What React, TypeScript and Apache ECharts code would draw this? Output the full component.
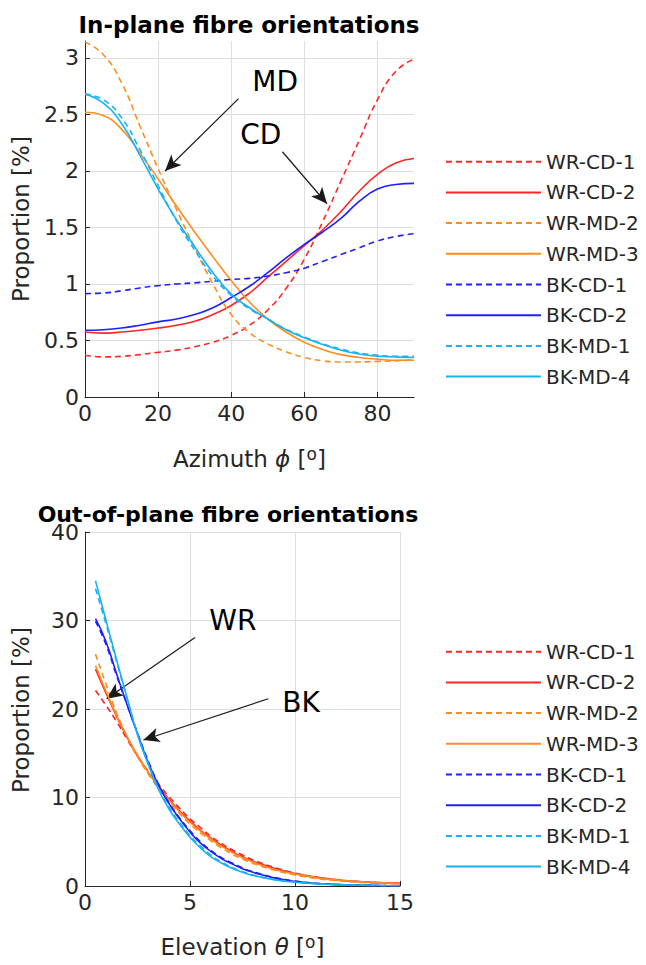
import React, { useEffect, useRef } from 'react';
import * as echarts from 'echarts';

const seriesNames = ['WR-CD-1', 'WR-CD-2', 'WR-MD-2', 'WR-MD-3', 'BK-CD-1', 'BK-CD-2', 'BK-MD-1', 'BK-MD-4'];
const seriesColors = ['#ff2626', '#ff2626', '#ff8c1f', '#ff8c1f', '#1f1fff', '#1f1fff', '#17b2f2', '#17b2f2'];
const seriesDashed = [true, false, true, false, true, false, true, false];

// In-plane (azimuth, degrees)
const azimuth = [0, 5, 10, 15, 20, 25, 30, 35, 40, 45, 50, 55, 60, 65, 70, 75, 80, 85, 90];
const wrCd1In = [0.37, 0.355, 0.36, 0.375, 0.395, 0.415, 0.445, 0.485, 0.545, 0.635, 0.77, 0.96, 1.22, 1.55, 1.91, 2.27, 2.63, 2.88, 2.99];
const wrCd2In = [0.575, 0.565, 0.575, 0.59, 0.61, 0.635, 0.67, 0.73, 0.81, 0.92, 1.06, 1.2, 1.34, 1.48, 1.64, 1.82, 1.97, 2.07, 2.11];
const wrMd2In = [3.14, 3.03, 2.78, 2.4, 2.02, 1.66, 1.32, 1.0, 0.73, 0.57, 0.47, 0.4, 0.35, 0.32, 0.31, 0.31, 0.315, 0.32, 0.33];
const wrMd3In = [2.52, 2.49, 2.37, 2.16, 1.93, 1.69, 1.46, 1.24, 1.03, 0.84, 0.69, 0.575, 0.485, 0.42, 0.375, 0.35, 0.335, 0.325, 0.325];
const bkCd1In = [0.915, 0.92, 0.94, 0.965, 0.985, 1.0, 1.01, 1.025, 1.04, 1.05, 1.07, 1.1, 1.14, 1.2, 1.26, 1.32, 1.38, 1.42, 1.445];
const bkCd2In = [0.59, 0.595, 0.61, 0.635, 0.665, 0.69, 0.73, 0.79, 0.88, 0.98, 1.1, 1.23, 1.35, 1.46, 1.58, 1.73, 1.84, 1.88, 1.89];
const bkMd1In = [2.68, 2.63, 2.47, 2.19, 1.87, 1.56, 1.3, 1.07, 0.9, 0.78, 0.69, 0.6, 0.53, 0.47, 0.425, 0.39, 0.37, 0.36, 0.36];
const bkMd4In = [2.68, 2.6, 2.42, 2.14, 1.84, 1.57, 1.33, 1.1, 0.91, 0.79, 0.69, 0.595, 0.525, 0.465, 0.415, 0.38, 0.36, 0.355, 0.35];

// Out-of-plane (elevation, degrees)
const elevation = [0.5, 1, 1.5, 2, 2.5, 3, 3.5, 4, 4.5, 5, 5.5, 6, 6.5, 7, 7.5, 8, 9, 10, 11, 12, 13, 14, 15];
const wrCd1El = [22.1, 20.4, 18.6, 16.6, 14.7, 13.0, 11.5, 10.1, 8.8, 7.6, 6.6, 5.6, 4.8, 4.1, 3.5, 2.95, 2.1, 1.45, 1.0, 0.7, 0.5, 0.36, 0.28];
const wrCd2El = [24.5, 21.8, 19.2, 16.8, 14.7, 12.9, 11.3, 9.8, 8.5, 7.35, 6.3, 5.4, 4.6, 3.9, 3.3, 2.8, 2.0, 1.4, 1.0, 0.7, 0.5, 0.38, 0.3];
const wrMd2El = [26.2, 22.8, 19.6, 16.9, 14.6, 12.7, 11.0, 9.5, 8.2, 7.0, 6.0, 5.1, 4.3, 3.6, 3.05, 2.55, 1.8, 1.25, 0.85, 0.6, 0.42, 0.3, 0.22];
const wrMd3El = [24.9, 22.0, 19.3, 16.9, 14.8, 12.9, 11.2, 9.7, 8.4, 7.2, 6.2, 5.3, 4.5, 3.8, 3.2, 2.7, 1.9, 1.35, 0.95, 0.68, 0.5, 0.38, 0.3];
const bkCd1El = [29.9, 27.3, 23.8, 20.5, 17.3, 14.2, 11.5, 9.4, 7.7, 6.25, 5.0, 4.0, 3.2, 2.6, 2.05, 1.62, 0.97, 0.56, 0.31, 0.17, 0.1, 0.05, 0.03];
const bkCd2El = [30.2, 27.6, 24.0, 20.5, 17.2, 14.0, 11.4, 9.3, 7.6, 6.1, 4.85, 3.9, 3.1, 2.5, 1.95, 1.55, 0.92, 0.52, 0.29, 0.16, 0.09, 0.05, 0.03];
const bkMd1El = [33.6, 29.6, 25.4, 21.2, 17.2, 13.9, 11.1, 8.9, 7.2, 5.7, 4.5, 3.5, 2.7, 2.1, 1.62, 1.25, 0.75, 0.45, 0.27, 0.16, 0.1, 0.05, 0.03];
const bkMd4El = [34.5, 30.0, 25.6, 21.3, 17.1, 13.8, 10.9, 8.7, 7.0, 5.5, 4.3, 3.3, 2.6, 2.0, 1.55, 1.2, 0.7, 0.42, 0.25, 0.15, 0.09, 0.05, 0.03];

const inPlane = [wrCd1In, wrCd2In, wrMd2In, wrMd3In, bkCd1In, bkCd2In, bkMd1In, bkMd4In];
const outPlane = [wrCd1El, wrCd2El, wrMd2El, wrMd3El, bkCd1El, bkCd2El, bkMd1El, bkMd4El];

// Annotations (data coordinates)
const inPlaneArrows = [
  { from: [42.0, 2.64], to: [21.9, 2.0] },
  { from: [54.0, 2.17], to: [66.2, 1.71] },
];
const inPlaneLabels = [
  { name: 'MD', at: [52.0, 2.79] },
  { name: 'CD', at: [48.1, 2.32] },
];
const outPlaneArrows = [
  { from: [5.24, 28.07], to: [1.03, 21.17] },
  { from: [8.73, 21.16], to: [2.78, 16.5] },
];
const outPlaneLabels = [
  { name: 'WR', at: [7.04, 30.0] },
  { name: 'BK', at: [10.29, 20.7] },
];

const FONT = 'DejaVu Sans';
const TXT = '#262626';

function makeAxis(idx: number, min: number, max: number, interval: number, hideMax: boolean, name: string, nameGap: number, isY: boolean) {
  return {
    type: 'value',
    gridIndex: idx,
    min,
    max,
    interval,
    name: isY ? '' : name,
    nameLocation: 'middle',
    nameGap,
    nameTextStyle: {
      fontSize: 23,
      color: TXT,
      fontFamily: FONT,
      lineHeight: 28,
      rich: {
        i: { fontSize: 23, fontStyle: 'italic', color: TXT, fontFamily: FONT, lineHeight: 28 },
        s: { fontSize: 17, color: TXT, fontFamily: FONT, lineHeight: 28, verticalAlign: 'top', padding: [0, 0, 14, 0] },
      },
    },
    axisLine: { show: true, onZero: false, lineStyle: { color: TXT, width: 1 } },
    axisTick: { show: true, inside: true, length: 5, lineStyle: { color: TXT, width: 1 } },
    axisLabel: {
      fontSize: 22,
      color: TXT,
      fontFamily: FONT,
      margin: isY ? 6 : 5,
      showMaxLabel: !hideMax,
    },
    splitLine: { show: true, showMaxLine: !hideMax, lineStyle: { color: '#dedede', width: 1 } },
  };
}

function makeSeries(xs: number[], ys: number[], i: number, axisIdx: number) {
  return {
    type: 'line',
    name: seriesNames[i],
    xAxisIndex: axisIdx,
    yAxisIndex: axisIdx,
    data: xs.map((x, k) => [x, ys[k]]),
    showSymbol: false,
    symbol: 'none',
    smooth: 0.5,
    silent: true,
    z: 2 + i,
    itemStyle: { color: seriesColors[i] },
    lineStyle: { color: seriesColors[i], width: 1.6, type: seriesDashed[i] ? [6, 4] : 'solid' },
  };
}

function annotations(arrows: any[], labels: any[]) {
  return {
    markLine: {
      silent: true,
      symbol: ['none', 'arrow'],
      symbolSize: [11, 16],
      lineStyle: { color: '#1a1a1a', width: 1.2, type: 'solid' },
      itemStyle: { color: '#1a1a1a' },
      label: { show: false },
      emphasis: { disabled: true },
      data: arrows.map((a) => [{ coord: a.from }, { coord: a.to }]),
    },
    markPoint: {
      silent: true,
      symbol: 'rect',
      symbolSize: 1,
      itemStyle: { color: 'rgba(0,0,0,0)' },
      label: { show: true, position: 'inside', formatter: '{b}', fontSize: 28, color: '#000', fontFamily: FONT },
      data: labels.map((l) => ({ name: l.name, coord: l.at })),
    },
  };
}

function legend(top: number) {
  return {
    orient: 'vertical',
    left: 445,
    top,
    padding: 0,
    itemWidth: 95,
    itemHeight: 20,
    itemGap: 10.7,
    selectedMode: false,
    itemStyle: { opacity: 0, borderWidth: 0 },
    textStyle: { fontSize: 20, color: TXT, fontFamily: FONT, lineHeight: 20 },
    data: seriesNames,
  };
}

function yTitle(y: number) {
  return {
    type: 'text',
    x: 21,
    y,
    rotation: Math.PI / 2,
    style: { text: 'Proportion [%]', fontSize: 23, fontFamily: FONT, fill: TXT, align: 'center', verticalAlign: 'middle' },
  };
}

export default function App() {
  const ref = useRef<HTMLDivElement>(null);
  useEffect(() => {
    if (!ref.current) return;
    const chart = echarts.init(ref.current, undefined, { renderer: 'svg' });
    const series: any[] = [];
    inPlane.forEach((ys, i) => series.push(makeSeries(azimuth, ys, i, 0)));
    outPlane.forEach((ys, i) => series.push(makeSeries(elevation, ys, i, 1)));
    Object.assign(series[0], annotations(inPlaneArrows, inPlaneLabels));
    Object.assign(series[8], annotations(outPlaneArrows, outPlaneLabels));

    chart.setOption({
      animation: false,
      backgroundColor: '#ffffff',
      textStyle: { fontFamily: FONT },
      grid: [
        { left: 85, top: 41, width: 329, height: 356 },
        { left: 85, top: 532, width: 315, height: 357 },
      ],
      xAxis: [
        makeAxis(0, 0, 90, 20, true, 'Azimuth {i|ϕ} [{s|o}]', 48, false),
        makeAxis(1, 0, 15, 5, false, 'Elevation {i|θ} [{s|o}]', 47, false),
      ],
      yAxis: [
        makeAxis(0, 0, 3.15, 0.5, true, '', 52, true),
        makeAxis(1, 0, 40, 10, false, '', 52, true),
      ],
      legend: [legend(151.7), legend(641.7)],
      graphic: [
        {
          type: 'text',
          x: 249,
          y: 25,
          style: { text: 'In-plane fibre orientations', fontSize: 23, fontWeight: 'bold', fontFamily: FONT, fill: '#000', align: 'center', verticalAlign: 'middle' },
        },
        {
          type: 'text',
          x: 228,
          y: 514,
          style: { text: 'Out-of-plane fibre orientations', fontSize: 22, fontWeight: 'bold', fontFamily: FONT, fill: '#000', align: 'center', verticalAlign: 'middle' },
        },
        yTitle(219),
        yTitle(710),
      ],
      series,
    });
    return () => chart.dispose();
  }, []);
  return <div ref={ref} style={{ position: 'fixed', left: 0, top: 0, width: 646, height: 965, background: '#fff' }} />;
}
